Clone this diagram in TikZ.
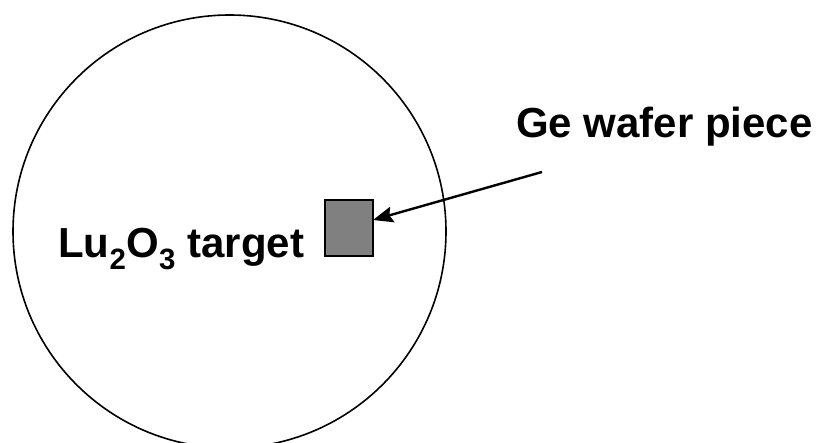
\documentclass[tikz,border=0pt]{standalone}
\usepackage{fontspec}
\setmainfont{Liberation Sans}
\usetikzlibrary{arrows.meta}
\begin{document}
\begin{tikzpicture}[x=1pt,y=-1pt,
  lbl/.style={font=\fontsize{42}{48}\selectfont\bfseries, inner sep=0pt, anchor=base west},
  piece/.style={draw, line width=1.6pt, fill={rgb,255:red,128;green,128;blue,128}, minimum width=48pt, minimum height=56pt, inner sep=0pt, outer sep=0pt},
  disc/.style={draw, circle, line width=1.6pt, minimum size=433pt, inner sep=0pt},
  pointer/.style={line width=2.4pt, -{Stealth[length=20pt,width=16pt,inset=3pt]}}]
\useasboundingbox (0,0) rectangle (817,443);
\begin{scope}
\clip (0,0) rectangle (817,443);
\node[disc] (target) at (229.5,231.5) {};
\end{scope}
\node[piece] (ge) at (349,228) {};
\node[lbl] (tlabel) at (58,258) {Lu\textsubscript{2}O\textsubscript{3} target};
\node[lbl] (glabel) at (516,138) {Ge wafer piece};
\coordinate (tail) at (542,172);
\draw[pointer] (tail) -- (ge.east |- 0,220);
\end{tikzpicture}
\end{document}
